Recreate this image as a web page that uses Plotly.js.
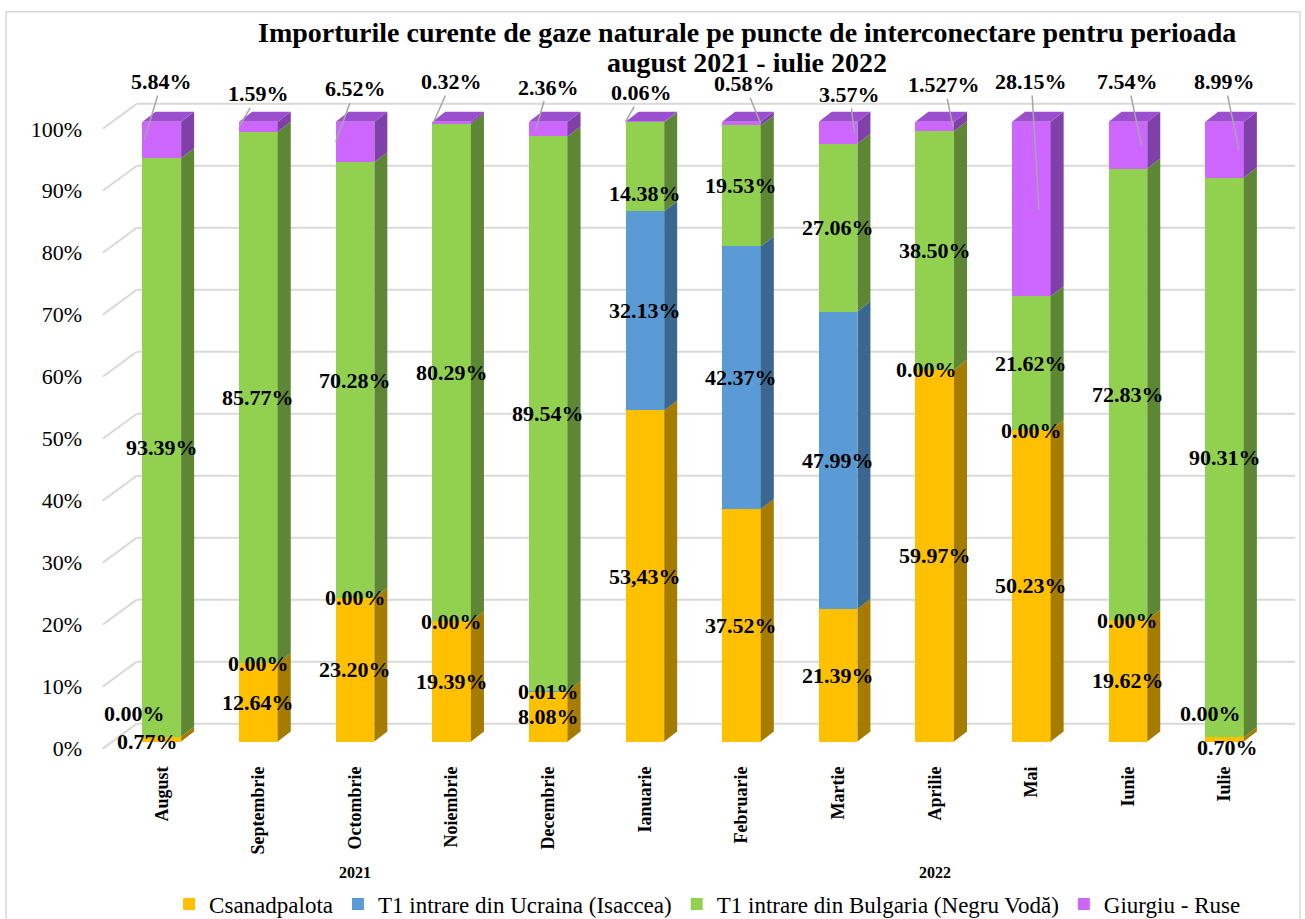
<!DOCTYPE html>
<html>
<head>
<meta charset="utf-8">
<script src="https://cdn.plot.ly/plotly-3.0.1.min.js"></script>
<style>html,body{margin:0;padding:0;background:#fff;}#chart{width:1305px;height:919px;}</style>
</head>
<body>
<div id="chart"></div>
<script>
// ---------- DATA ----------
const months = ['August','Septembrie','Octombrie','Noiembrie','Decembrie','Ianuarie','Februarie','Martie','Aprilie','Mai','Iunie','Iulie'];
const years = ['2021','2021','2021','2021','2021','2022','2022','2022','2022','2022','2022','2022'];
const seriesNames = ['Csanadpalota','T1 intrare din Ucraina (Isaccea)','T1 intrare din Bulgaria (Negru Vodă)','Giurgiu - Ruse'];
const csanadpalota = [0.77, 12.64, 23.20, 19.39, 8.08, 53.43, 37.52, 21.39, 59.97, 50.23, 19.62, 0.70];
const ucraina      = [0.00, 0.00, 0.00, 0.00, 0.01, 32.13, 42.37, 47.99, 0.00, 0.00, 0.00, 0.00];
const bulgaria     = [93.39, 85.77, 70.28, 80.29, 89.54, 14.38, 19.53, 27.06, 38.50, 21.62, 72.83, 90.31];
const giurgiu      = [5.84, 1.59, 6.52, 0.32, 2.36, 0.06, 0.58, 3.57, 1.527, 28.15, 7.54, 8.99];
const yTicks = [0,10,20,30,40,50,60,70,80,90,100];
const labelTextOverrides = {0: {5: '53,43%'}};

// ---------- STYLE / LAYOUT HELPERS ----------
const FONT = 'Liberation Serif, Times New Roman, serif';
const frontColors = ['#FFC000', '#5B9BD5', '#92D050', '#CC66FF'];
const sideColors  = ['#A67C00', '#3A6690', '#5E8735', '#7F40A8'];
const topColor = '#9B4FCF';
const LABEL_SIZE = 22;
const BAR_W = 0.4, DX = 0.1346, DY = 1.613;
const WALL_FRONT_X = -0.611, WALL_BACK_X = -0.259, WALL_RIGHT_X = 11.73;
const WALL_FRONT_DY = -1.13, WALL_BACK_DY = 2.9;
// label placement tweaks (positions only)
const labelNudge = {
  '1-0': {dx: -0.28, y: 4.5}, '0-0': {dx: -0.15, y: 0.0},
  '1-11': {dx: -0.15, y: 4.5}, '0-11': {dx: 0.03, y: -1.0},
  '2-5': {dx: 0, y: 88.5}, '1-8': {dx: -0.08}
};
const topTextY  = [106.5, 104.5, 105.3, 106.5, 105.6, 104.7, 106.1, 104.4, 106.0, 106.5, 106.5, 106.5];
const topTextDX = [0, 0, 0, 0, 0, -0.03, 0.03, 0.12, 0.10, 0, 0, 0];
const topHeadDX = [-0.18, -0.2, -0.2, -0.19, -0.13, -0.2, 0.2, 0.17, 0.19, 0.08, 0.14, 0.15];

const series = [csanadpalota, ucraina, bulgaria, giurgiu];
const xs = months.map((m, i) => i);

function fmt(v) {
  const ok = Math.abs(Math.round(v * 100) - v * 100) < 1e-6;
  return (ok ? v.toFixed(2) : String(v)) + '%';
}

const traces = series.map((vals, s) => ({
  type: 'bar', name: seriesNames[s], x: xs, y: vals, width: BAR_W,
  marker: {color: frontColors[s], line: {width: 0}},
  hoverinfo: 'skip'
}));
traces.push({type: 'scatter', x: [], y: [], yaxis: 'y2', showlegend: false, hoverinfo: 'skip'});

const shapes = [];
// walls / gridlines
yTicks.forEach(v => {
  shapes.push({type: 'line', layer: 'below', xref: 'x', yref: 'y',
    x0: WALL_FRONT_X, y0: v + WALL_FRONT_DY, x1: WALL_BACK_X, y1: v + WALL_BACK_DY,
    line: {color: '#D9D9D9', width: 2}});
  shapes.push({type: 'line', layer: 'below', xref: 'x', yref: 'y',
    x0: WALL_BACK_X, y0: v + WALL_BACK_DY, x1: WALL_RIGHT_X, y1: v + WALL_BACK_DY,
    line: {color: '#D9D9D9', width: 2}});
});
// 3D side & top faces, data labels
const annotations = [];
xs.forEach(i => {
  let cum = 0;
  const xl = i - BAR_W / 2, xr = i + BAR_W / 2;
  series.forEach((vals, s) => {
    const v = vals[i];
    const y0 = cum, y1 = cum + v;
    if (v > 0) {
      shapes.push({type: 'path', layer: 'above', xref: 'x', yref: 'y',
        path: `M ${xr},${y0} L ${xr + DX},${y0 + DY} L ${xr + DX},${y1 + DY} L ${xr},${y1} Z`,
        fillcolor: sideColors[s], line: {width: 0}});
    }
    const txt = (labelTextOverrides[s] && labelTextOverrides[s][i]) || fmt(v);
    if (s === 3) {
      annotations.push({xref: 'x', yref: 'y', x: i + topHeadDX[i], y: (y0 + y1) / 2,
        axref: 'x', ayref: 'y', ax: i + topTextDX[i], ay: topTextY[i],
        text: '<b>' + txt + '</b>', showarrow: true, arrowhead: 0, arrowwidth: 1.5,
        arrowcolor: '#A6A6A6', standoff: 0,
        font: {family: FONT, size: LABEL_SIZE, color: '#000'}});
    } else {
      const nd = labelNudge[s + '-' + i] || {};
      const ly = (nd.y !== undefined) ? nd.y : (y0 + y1) / 2;
      annotations.push({xref: 'x', yref: 'y', x: i + (nd.dx || 0), y: ly,
        text: '<b>' + txt + '</b>', showarrow: false,
        font: {family: FONT, size: LABEL_SIZE, color: '#000'}});
    }
    cum = y1;
  });
  shapes.push({type: 'path', layer: 'above', xref: 'x', yref: 'y',
    path: `M ${xl},${cum} L ${xl + DX},${cum + DY} L ${xr + DX},${cum + DY} L ${xr},${cum} Z`,
    fillcolor: topColor, line: {width: 0}});
});
// year group labels
const yearGroups = {};
years.forEach((y, i) => { (yearGroups[y] = yearGroups[y] || []).push(i); });
Object.keys(yearGroups).forEach(y => {
  const idx = yearGroups[y];
  const c = (idx[0] + idx[idx.length - 1]) / 2;
  annotations.push({xref: 'x', yref: 'paper', x: c, y: -0.1805, yanchor: 'middle', text: '<b>' + y + '</b>',
    showarrow: false, font: {family: FONT, size: 16, color: '#000'}});
});
// title as two centered lines
annotations.push({xref: 'paper', yref: 'paper', x: 0.541, y: 1 + (97.2 - 33) / 657.2, yanchor: 'middle',
  text: '<b>Importurile curente de gaze naturale pe puncte de interconectare pentru perioada</b>',
  showarrow: false, font: {family: FONT, size: 28, color: '#000'}});
annotations.push({xref: 'paper', yref: 'paper', x: 0.541, y: 1 + (97.2 - 63) / 657.2, yanchor: 'middle',
  text: '<b>august 2021 - iulie 2022</b>',
  showarrow: false, font: {family: FONT, size: 28, color: '#000'}});
// outer chart border
shapes.push({type: 'rect', xref: 'paper', yref: 'paper', x0: -0.0776, x1: 1.0025, y0: -0.27, y1: 1.1296,
  line: {color: '#D9D9D9', width: 1.5}, fillcolor: 'rgba(0,0,0,0)', layer: 'below'});

const layout = {
  width: 1305, height: 919,
  margin: {l: 99, r: 8, t: 97.2, b: 164.6, autoexpand: false},
  paper_bgcolor: '#fff', plot_bgcolor: '#fff',
  barmode: 'stack', bargap: 0,
  font: {family: FONT, color: '#000'},
  xaxis: {range: [-0.65, 11.75], tickmode: 'array', tickvals: xs, ticktext: months, tickangle: -90,
    tickfont: {family: FONT, size: 18, color: '#000', weight: 'bold'}, automargin: false,
    showgrid: false, zeroline: false, showline: false, ticks: '', ticklabelstandoff: 8, fixedrange: true},
  yaxis: {range: [-2, 104], showgrid: false, zeroline: false, showticklabels: false, ticks: '',
    automargin: false, fixedrange: true},
  yaxis2: {overlaying: 'y', side: 'left', range: [-2 - WALL_FRONT_DY, 104 - WALL_FRONT_DY],
    tickmode: 'array', tickvals: yTicks, ticktext: yTicks.map(v => v + '%'), automargin: false,
    tickfont: {family: FONT, size: 22, color: '#000'}, showgrid: false, zeroline: false,
    ticks: '', ticklabelstandoff: 16, fixedrange: true},
  legend: {orientation: 'h', x: 0.508, xanchor: 'center', y: -0.2285, yanchor: 'middle',
    font: {family: FONT, size: 23, color: '#000'}, traceorder: 'normal', bgcolor: 'rgba(0,0,0,0)'},
  shapes: shapes,
  annotations: annotations,
  showlegend: true
};

Plotly.newPlot('chart', traces, layout, {displayModeBar: false, staticPlot: true});
</script>
</body>
</html>
